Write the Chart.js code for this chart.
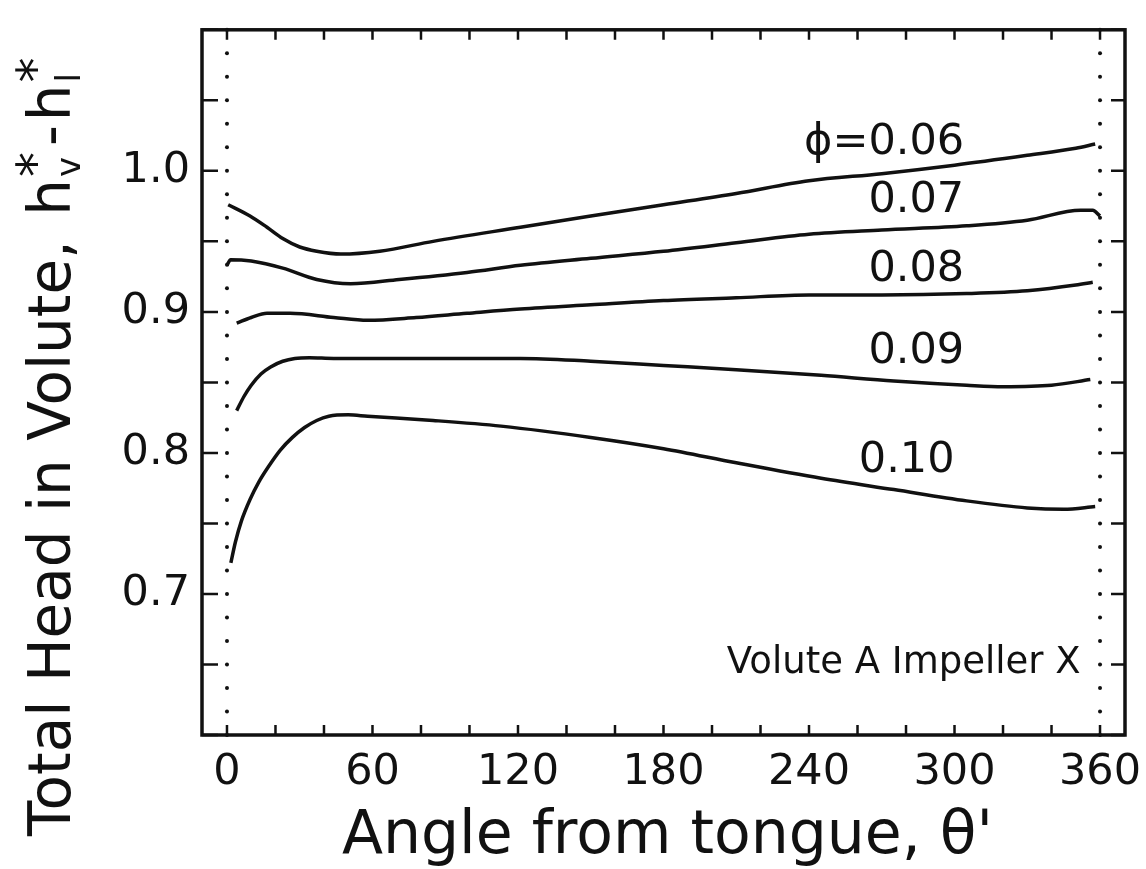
<!DOCTYPE html>
<html>
<head>
<meta charset="utf-8">
<script src="https://cdn.jsdelivr.net/npm/chart.js@4/dist/chart.umd.min.js"></script>
<style>
  html, body { margin: 0; padding: 0; background: #fff; }
  canvas { display: block; }
</style>
</head>
<body>
<canvas id="grafico" width="1146" height="869"></canvas>
<script>
// Dados (ângulo em graus, carga adimensional)
const angulos06 = [0.5, 9.5, 16.5, 23, 30, 37, 47, 63, 85, 121, 150, 180, 210, 240, 270, 300, 330, 350, 358];
const carga06   = [0.976, 0.968, 0.960, 0.952, 0.946, 0.943, 0.941, 0.943, 0.950, 0.960, 0.968, 0.976, 0.984, 0.993, 0.998, 1.004, 1.011, 1.016, 1.019];

const angulos07 = [0, 1.5, 10, 23, 37, 51, 71, 99, 121, 150, 180, 210, 240, 270, 305, 330, 352, 357, 360];
const carga07   = [0.933, 0.937, 0.936, 0.931, 0.923, 0.920, 0.923, 0.928, 0.933, 0.938, 0.943, 0.949, 0.955, 0.958, 0.961, 0.965, 0.972, 0.972, 0.968];

const angulos08 = [4, 10, 16.5, 26, 44, 58, 78, 99, 121, 150, 180, 210, 240, 270, 305, 330, 350, 357];
const carga08   = [0.892, 0.896, 0.899, 0.899, 0.896, 0.894, 0.896, 0.899, 0.902, 0.905, 0.908, 0.910, 0.912, 0.912, 0.913, 0.915, 0.919, 0.921];

const angulos09 = [4, 7, 10, 14, 18, 23, 28, 34, 44, 80, 121, 150, 180, 210, 245, 275, 305, 320, 340, 356];
const carga09   = [0.830, 0.840, 0.848, 0.856, 0.861, 0.865, 0.867, 0.8675, 0.867, 0.867, 0.867, 0.865, 0.862, 0.859, 0.855, 0.851, 0.848, 0.847, 0.848, 0.852];

const angulos10 = [1.6, 3.5, 6, 9.5, 13, 17, 22, 27, 32, 37, 42, 50, 58, 85, 113, 150, 180, 210, 245, 275, 305, 330, 345, 358];
const carga10   = [0.722, 0.737, 0.752, 0.767, 0.779, 0.790, 0.802, 0.811, 0.818, 0.823, 0.826, 0.827, 0.826, 0.823, 0.819, 0.811, 0.803, 0.793, 0.782, 0.774, 0.766, 0.761, 0.760, 0.762];

// Rótulos das curvas: texto, ângulo (borda direita), carga (centro)
const rotulosTexto  = ['\u03D5=0.06', '0.07', '0.08', '0.09', '0.10'];
const rotulosAngulo = [304, 304, 304, 304, 300];
const rotulosCarga  = [1.020, 0.979, 0.930, 0.872, 0.7945];

const xTicks = [0, 60, 120, 180, 240, 300, 360];

const COR = '#111';
const FONTE = '"DejaVu Sans", sans-serif';

const pontos = (xs, ys) => xs.map((x, i) => ({ x, y: ys[i] }));

const serie = (xs, ys) => ({
  data: pontos(xs, ys),
  borderColor: COR,
  borderWidth: 3.5,
  pointRadius: 0,
  fill: false,
  cubicInterpolationMode: 'monotone'
});

// Moldura, marcas internas e linhas pontilhadas em 0 e 360
const moldura = {
  id: 'moldura',
  afterDraw(chart) {
    const { ctx, chartArea: a, scales: { x, y } } = chart;
    ctx.save();
    ctx.strokeStyle = COR;
    ctx.fillStyle = COR;

    ctx.lineWidth = 2.5;
    x.ticks.forEach(t => {
      const px = x.getPixelForValue(t.value);
      ctx.beginPath();
      ctx.moveTo(px, a.bottom); ctx.lineTo(px, a.bottom - 10);
      ctx.moveTo(px, a.top); ctx.lineTo(px, a.top + 10);
      ctx.stroke();
    });
    y.ticks.forEach(t => {
      const py = y.getPixelForValue(t.value);
      ctx.beginPath();
      ctx.moveTo(a.left, py); ctx.lineTo(a.left + 16, py);
      ctx.moveTo(a.right, py); ctx.lineTo(a.right - 14, py);
      ctx.stroke();
    });

    // pontinhos a cada 1/3 do intervalo de 0.05
    [0, 360].forEach(ang => {
      const px = x.getPixelForValue(ang);
      for (let k = 0; k <= 30; k++) {
        const py = y.getPixelForValue(0.6 + k * 0.05 / 3);
        ctx.beginPath();
        ctx.arc(px, py, 2, 0, Math.PI * 2);
        ctx.fill();
      }
    });

    ctx.lineWidth = 3.5;
    ctx.strokeRect(a.left, a.top, a.right - a.left, a.bottom - a.top);
    ctx.restore();
  }
};

// Textos: rótulos das curvas, legenda do caso e títulos dos eixos
const textos = {
  id: 'textos',
  afterDraw(chart) {
    const { ctx, chartArea: a, scales: { x, y } } = chart;
    ctx.save();
    ctx.fillStyle = COR;

    ctx.font = '43px ' + FONTE;
    ctx.textAlign = 'right';
    ctx.textBaseline = 'middle';
    rotulosTexto.forEach((txt, i) => {
      ctx.fillText(txt, x.getPixelForValue(rotulosAngulo[i]), y.getPixelForValue(rotulosCarga[i]));
    });

    ctx.font = '37px ' + FONTE;
    ctx.fillText('Volute A Impeller X', x.getPixelForValue(352), y.getPixelForValue(0.651));

    // título do eixo x
    ctx.font = '60px ' + FONTE;
    ctx.textAlign = 'center';
    ctx.textBaseline = 'alphabetic';
    ctx.fillText('Angle from tongue, \u03B8\'', (a.left + a.right) / 2 + 4, 853);

    // título do eixo y, com sobrescritos e subscritos
    ctx.translate(70, 836);
    ctx.rotate(-Math.PI / 2);
    ctx.textAlign = 'left';
    let pos = 0;
    const escreve = (txt, tam, dy) => {
      ctx.font = tam + 'px ' + FONTE;
      ctx.fillText(txt, pos, dy);
      return ctx.measureText(txt).width;
    };
    const hEstrela = (sub) => {
      pos += escreve('h', 58, 0) + 2;
      const w1 = escreve('*', 50, -18);
      const w2 = escreve(sub, 34, 10);
      pos += Math.max(w1, w2) + 2;
    };
    pos += escreve('Total Head in Volute, ', 58, 0) + 6;
    hEstrela('v');
    pos += 4;
    pos += escreve('-', 58, 0) + 4;
    hEstrela('l');
    ctx.restore();
  }
};

new Chart(document.getElementById('grafico'), {
  type: 'line',
  data: {
    datasets: [
      serie(angulos06, carga06),
      serie(angulos07, carga07),
      serie(angulos08, carga08),
      serie(angulos09, carga09),
      serie(angulos10, carga10)
    ]
  },
  options: {
    responsive: false,
    animation: false,
    layout: { padding: { top: 14, right: 21, left: 0, bottom: 0 } },
    plugins: { legend: { display: false }, tooltip: { enabled: false } },
    scales: {
      x: {
        type: 'linear',
        min: -10.3,
        max: 370.3,
        afterBuildTicks: s => {
          const lista = [];
          for (let v = 0; v <= 360; v += 20) lista.push({ value: v });
          s.ticks = lista;
        },
        afterFit: s => { s.height = 134; },
        grid: { display: false },
        border: { display: false },
        ticks: {
          autoSkip: false,
          maxRotation: 0,
          padding: 4,
          color: COR,
          font: { family: FONTE, size: 43 },
          callback: v => xTicks.includes(Math.round(v)) ? String(Math.round(v)) : ''
        }
      },
      y: {
        min: 0.6,
        max: 1.1,
        afterFit: s => { s.width = 202; },
        grid: { display: false },
        border: { display: false },
        ticks: {
          stepSize: 0.05,
          autoSkip: false,
          padding: 4,
          color: COR,
          font: { family: FONTE, size: 43 },
          callback: v => {
            const r = Math.round(v * 100);
            return (r % 10 === 0 && r > 60 && r < 110) ? (r / 100).toFixed(1) : '';
          }
        }
      }
    }
  },
  plugins: [moldura, textos]
});
</script>
</body>
</html>
